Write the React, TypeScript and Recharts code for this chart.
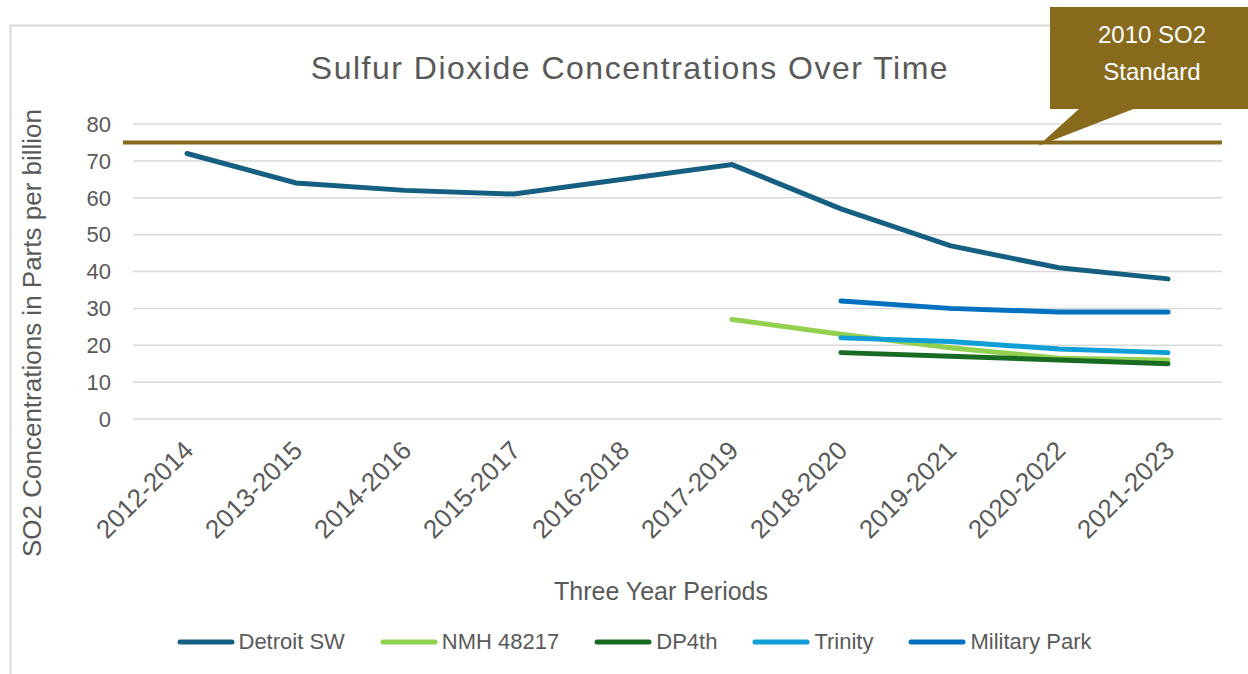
import React from 'react';
import { LineChart, Line, XAxis, YAxis, CartesianGrid, ReferenceLine, Legend, Customized } from 'recharts';

const periods = ['2012-2014', '2013-2015', '2014-2016', '2015-2017', '2016-2018', '2017-2019', '2018-2020', '2019-2021', '2020-2022', '2021-2023'];
const detroitSW = [72, 64, 62, 61, 65, 69, 57, 47, 41, 38];
const nmh48217 = [null, null, null, null, null, 27, 23, 19.3, 16.5, 16];
const dp4th = [null, null, null, null, null, null, 18, 17, 16, 15];
const trinity = [null, null, null, null, null, null, 22, 21, 19, 18];
const militaryPark = [null, null, null, null, null, null, 32, 30, 29, 29];
const yTicks = [0, 10, 20, 30, 40, 50, 60, 70, 80];
const standardValue = 75;
const standardLabel = ['2010 SO2', 'Standard'];
const seriesOrder = ['Detroit SW', 'NMH 48217', 'DP4th', 'Trinity', 'Military Park'];

const data = periods.map((p, i) => ({
  period: p,
  detroitSW: detroitSW[i],
  nmh48217: nmh48217[i],
  dp4th: dp4th[i],
  trinity: trinity[i],
  militaryPark: militaryPark[i],
}));

const TEXT = '#595959';
const GOLD = '#876A1C';
const FONT = '"Liberation Sans", Roboto, sans-serif';

const XTick = (props: any) => {
  const { x, y, payload } = props;
  const ax = x + 8;
  const ay = y + 33;
  return (
    <text x={ax} y={ay} transform={`rotate(-45, ${ax}, ${ay})`} textAnchor="end" fill={TEXT} fontSize={26} fontFamily={FONT}>
      {payload.value}
    </text>
  );
};

const StandardShape = (props: any) => {
  const { x1, y1, x2, y2 } = props;
  return <line x1={x1 - 10} y1={y1} x2={x2} y2={y2} stroke={GOLD} strokeWidth={4} />;
};

const LegendContent = (props: any) => {
  const payload = [...(props.payload || [])].sort(
    (a: any, b: any) => seriesOrder.indexOf(a.value) - seriesOrder.indexOf(b.value)
  );
  return (
    <div style={{ display: 'flex', justifyContent: 'center', alignItems: 'center', fontFamily: FONT, fontSize: 22, color: TEXT, paddingLeft: 20 }}>
      {payload.map((item: any, i: number) => (
        <div key={i} style={{ display: 'flex', alignItems: 'center', marginRight: i < payload.length - 1 ? 35 : 0 }}>
          <svg width={58} height={10} style={{ marginRight: 4 }}>
            <line x1={3} y1={5} x2={55} y2={5} stroke={item.color} strokeWidth={5} strokeLinecap="round" />
          </svg>
          <span>{item.value}</span>
        </div>
      ))}
    </div>
  );
};

const Decorations = () => (
  <g>
    <rect x={10.5} y={25.5} width={1400} height={800} fill="none" stroke="#D9D9D9" strokeWidth={2} />
    <text x={630} y={79} textAnchor="middle" fill={TEXT} fontSize={32} letterSpacing={1.5} fontFamily={FONT}>
      Sulfur Dioxide Concentrations Over Time
    </text>
    <text x={661} y={600} textAnchor="middle" fill={TEXT} fontSize={25} fontFamily={FONT}>
      Three Year Periods
    </text>
    <text x={41} y={333} transform="rotate(-90, 41, 333)" textAnchor="middle" fill={TEXT} fontSize={26} fontFamily={FONT}>
      SO2 Concentrations in Parts per billion
    </text>
    <rect x={1050} y={7} width={220} height={102} fill={GOLD} />
    <polygon points="1080,108 1136,108 1038,146" fill={GOLD} />
    <text x={1152} y={43} textAnchor="middle" fill="#FFFFFF" fontSize={24} fontFamily={FONT}>{standardLabel[0]}</text>
    <text x={1152} y={80} textAnchor="middle" fill="#FFFFFF" fontSize={24} fontFamily={FONT}>{standardLabel[1]}</text>
  </g>
);

export default function App() {
  return (
    <div style={{ position: 'absolute', left: 0, top: 0, width: 1248, height: 674, background: '#fff' }}>
      <LineChart width={1248} height={674} data={data} margin={{ top: 124, right: 26, left: 63, bottom: 105 }}>
        <Customized component={Decorations} />
        <CartesianGrid horizontal vertical={false} stroke="#D9D9D9" strokeWidth={1.5} />
        <XAxis dataKey="period" interval={0} axisLine={false} tickLine={false} tickSize={0} tickMargin={0} height={150} padding={{ left: 54, right: 54 }} tick={<XTick />} />
        <YAxis domain={[0, 80]} ticks={yTicks} width={70} axisLine={false} tickLine={false} tickSize={6} tickMargin={16} tick={{ fill: TEXT, fontSize: 22, fontFamily: FONT }} />
        <ReferenceLine y={standardValue} shape={<StandardShape />} ifOverflow="extendDomain" />
        <Line dataKey="detroitSW" name="Detroit SW" stroke="#156082" strokeWidth={5} dot={false} isAnimationActive={false} strokeLinecap="round" />
        <Line dataKey="nmh48217" name="NMH 48217" stroke="#92D050" strokeWidth={5} dot={false} isAnimationActive={false} strokeLinecap="round" />
        <Line dataKey="dp4th" name="DP4th" stroke="#196B24" strokeWidth={5} dot={false} isAnimationActive={false} strokeLinecap="round" />
        <Line dataKey="trinity" name="Trinity" stroke="#0F9ED5" strokeWidth={5} dot={false} isAnimationActive={false} strokeLinecap="round" />
        <Line dataKey="militaryPark" name="Military Park" stroke="#0070C0" strokeWidth={5} dot={false} isAnimationActive={false} strokeLinecap="round" />
        <Legend layout="horizontal" verticalAlign="middle" align="center" content={<LegendContent />} wrapperStyle={{ top: 629, left: 0, width: 1248 }} />
      </LineChart>
    </div>
  );
}
